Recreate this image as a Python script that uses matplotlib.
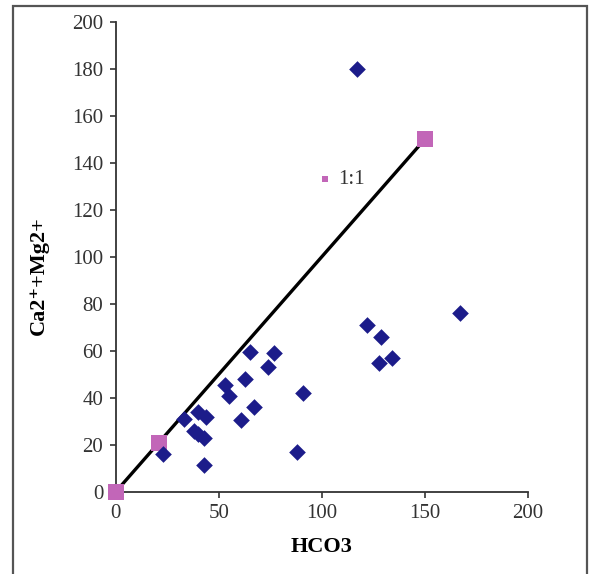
import numpy as np
import matplotlib
matplotlib.use("Agg")
import matplotlib.pyplot as plt
from matplotlib.patches import Rectangle

# observed samples (HCO3 vs Ca2+ + Mg2+)
hco3 = [117, 167, 122, 129, 128, 134, 65, 77, 74, 63, 53, 55, 91, 67, 61,
        33, 40, 44, 38, 40, 43, 23, 43, 88]
ca_mg = [180, 76, 71, 66, 55, 57, 59.5, 59, 53, 48, 45.5, 41, 42, 36, 30.5,
         31, 34, 32, 26, 24.5, 23, 16, 11.5, 17]

# 1:1 reference line
ref_x = [0, 21, 150]
ref_y = [0, 21, 150]

plt.rcParams["font.family"] = ["Liberation Serif", "DejaVu Serif"]

fig = plt.figure(figsize=(5.93, 5.74), dpi=100)
ax = fig.add_axes([0.195, 0.143, 0.695, 0.819])

# outer frame round the whole chart
fig.patches.append(Rectangle((0.022, -0.01), 0.968, 1.0, transform=fig.transFigure,
                             fill=False, edgecolor="#555555", linewidth=1.6))

ax.plot(ref_x, ref_y, color="black", linewidth=2.4, zorder=2)
ax.scatter(ref_x, ref_y, marker="s", s=120, color="#c266b8", zorder=3,
           linewidths=0, label="1:1", clip_on=False)
ax.scatter(hco3, ca_mg, marker="D", s=72, color="#1c1c8a", zorder=4, linewidths=0)

ax.set_xlim(0, 200)
ax.set_ylim(0, 200)
ax.set_xticks(np.arange(0, 201, 50))
ax.set_yticks(np.arange(0, 201, 20))
ax.spines["top"].set_visible(False)
ax.spines["right"].set_visible(False)
for s in ["left", "bottom"]:
    ax.spines[s].set_linewidth(1.3)
    ax.spines[s].set_color("#333333")
ax.tick_params(direction="out", length=4, width=1.2, labelsize=15,
               labelcolor="#333333", color="#333333", pad=5)

ax.set_xlabel("HCO3", fontsize=16, fontweight="bold", labelpad=10)
ax.set_ylabel("Ca2\u207a+Mg2+", fontsize=16, fontweight="bold")
ax.yaxis.set_label_coords(-0.161, 0.46)

leg = ax.legend(loc="center left", bbox_to_anchor=(0.438, 0.665), frameon=False,
                markerscale=0.35, handletextpad=0.1, fontsize=15,
                handlelength=1.0)
for t in leg.get_texts():
    t.set_color("#333333")

fig.savefig("out.png", dpi=100)
